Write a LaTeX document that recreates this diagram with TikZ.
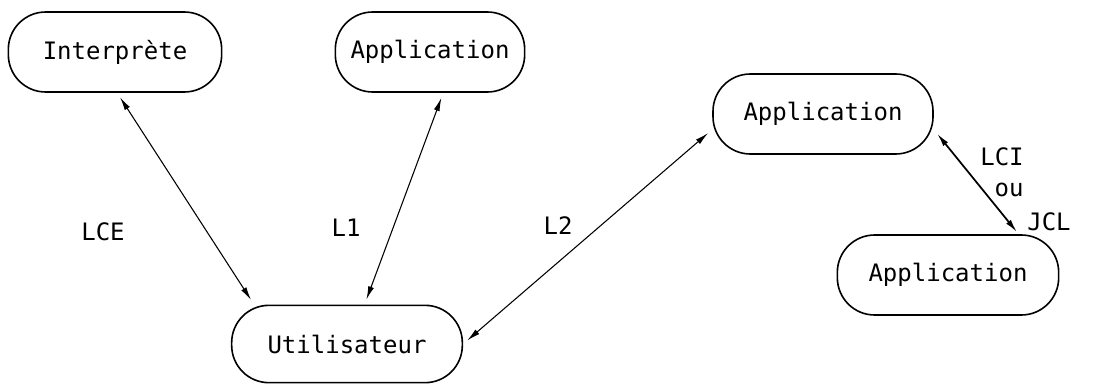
\documentclass[tikz,border=0pt]{standalone}
\usepackage{fontspec}
\setmonofont{DejaVu Sans Mono}
\usetikzlibrary{arrows.meta}
\begin{document}
\begin{tikzpicture}
[x=0.75pt,y=-0.75pt,>={Latex[length=10pt,width=4.5pt]}, font=\ttfamily\fontsize{18}{20}\selectfont,
 prog/.style={draw,line width=1.2pt,rounded corners=28pt,minimum height=60pt,inner sep=0pt},
 link/.style={<->,line width=0.8pt,shorten >=4pt,shorten <=4pt}]

\useasboundingbox (0,0) rectangle (1112,385);

% the centres of the boxes
\coordinate (I) at (115,52);
\coordinate (A) at (430,52);
\coordinate (B) at (823,114);
\coordinate (C) at (948,275);
\coordinate (U) at (347,344);

% the boxes
\node[prog,minimum width=160pt] (interp) at (I) {Interprète};
\node[prog,minimum width=142pt] (appA) at (A) {Application};
\node[prog,minimum width=165pt] (appB) at (B) {Application};
\node[prog,minimum width=166pt] (appC) at (C) {Application};
\node[prog,minimum width=173pt,minimum height=58pt] (user) at (U) {Utilisateur};

% the links
\draw[link] (interp.273) -- (user.157);
\draw[link] (appA.288) -- (user.66);
\draw[link] (user.east) -- (appB.188);
\draw[link,line width=1.3pt,shorten >=2pt] (appB.352) -- (appC.30);

% labelling the links
\node (lce) at (103,232) {LCE};
\node (lone) at (346,228) {L1};
\node (ltwo) at (558,226) {L2};
\node (lci) at (1002,157) {LCI};
\node (ou) at (1009,190) {ou};
\node (jcl) at (1049,222) {JCL};

\end{tikzpicture}
\end{document}
